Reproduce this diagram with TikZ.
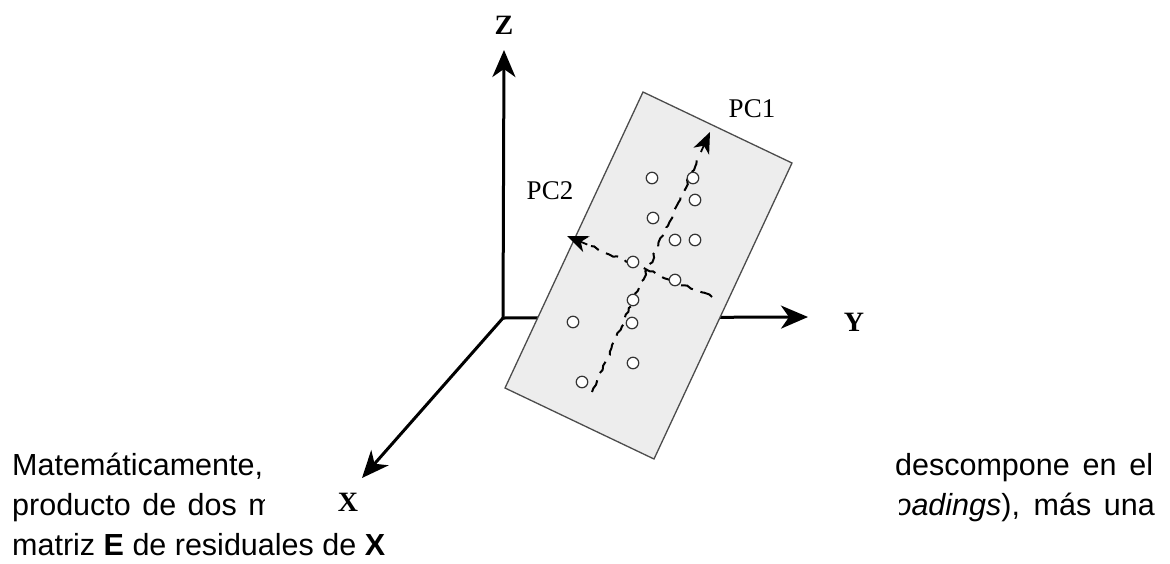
\documentclass[tikz,border=0pt]{standalone}
\usepackage{fontspec}
\setmainfont{Liberation Sans}
\newfontfamily\lblfont{Liberation Serif}
\usetikzlibrary{arrows.meta,calc,decorations.pathmorphing}
\tikzset{
  bodytext/.style={inner sep=0pt, font=\fontsize{30.5}{36}\selectfont},
  axis/.style={line width=3pt, -{Stealth[length=27pt,width=23pt,inset=8pt]}},
  axlabel/.style={inner sep=0pt, font=\lblfont\bfseries\fontsize{28}{30}\selectfont},
  pclabel/.style={inner sep=0pt, font=\lblfont\fontsize{27}{30}\selectfont},
  plane/.style={draw=black!70, line width=1.3pt, fill=black!7},
  pcline/.style={line width=2pt, dash pattern=on 13pt off 8pt,
    decorate, decoration={random steps, segment length=4pt, amplitude=1.4pt}},
  pctip/.style={line width=1.8pt, -{Stealth[length=21pt,width=17pt,inset=6pt]}},
  obs/.style={circle, draw=black!80, line width=1.2pt, fill=white, minimum size=11.5pt, inner sep=0pt},
}
\begin{document}
\begin{tikzpicture}[x=1pt,y=-1pt]
\pgfmathsetseed{7}
\useasboundingbox (0,0) rectangle (1170,563);
\fill[white] (0,0) rectangle (1170,563);
% paragraph text (partly covered by the figure)
\begin{scope}
  \clip (0,400) rectangle (264,528);
  \node[bodytext, anchor=base west] (t1a) at (12,475) {Matemáticamente,};
  \node[bodytext, anchor=base west] (t2a) at (12,515) {producto\hspace{3pt} de\hspace{3pt} dos\hspace{3pt} ma};
\end{scope}
\node[bodytext, anchor=base west] (t1b) at (895,475) {\makebox[258pt][s]{descompone en el}};
\begin{scope}
  \clip (899,400) rectangle (1170,528);
  \node[bodytext, anchor=base east] (t2b) at (1155,515) {\makebox[267pt][s]{\textit{loadings}), más una}};
\end{scope}
\node[bodytext, anchor=base west] (t3) at (12,555) {matriz \textbf{E} de residuales de \textbf{X}};
% axes
\coordinate (O) at (503,318);
\coordinate (Zt) at (504,50);
\coordinate (Yt) at (808,317);
\coordinate (Xt) at (362,478);
\draw[axis] (O) -- (Zt);
\draw[axis] (O) -- (Yt);
\draw[axis] (O) -- (Xt);
\node[axlabel] (Zl) at (504,25) {Z};
\node[axlabel] (Yl) at (854,322) {Y};
\node[axlabel] (Xl) at (348,502) {X};
% plane
\coordinate (P1) at (643,92);
\coordinate (P2) at (792,163);
\coordinate (P3) at (654,459);
\coordinate (P4) at (505,388);
\draw[plane] (P1) -- (P2) -- (P3) -- (P4) -- cycle;
% principal components
\coordinate (pc1s) at (592,392);
\coordinate (pc1t) at (710,132);
\coordinate (pc2s) at (712,297);
\coordinate (pc2t) at (567,236);
\coordinate (pc1a) at ($(pc1t)!22pt!(pc1s)$);
\coordinate (pc2a) at ($(pc2t)!22pt!(pc2s)$);
\draw[pcline] (pc1s) -- ($(pc1t)!26pt!(pc1s)$);
\draw[pcline] (pc2s) -- ($(pc2t)!26pt!(pc2s)$);
\draw[pctip] (pc1a) -- (pc1t);
\draw[pctip] (pc2a) -- (pc2t);
\node[pclabel] (pc1l) at (752,109) {PC1};
\node[pclabel] (pc2l) at (550,191) {PC2};
% observations
\node[obs] (o1) at (652,178) {};
\node[obs] (o2) at (693,178) {};
\node[obs] (o3) at (695,200) {};
\node[obs] (o4) at (653,218) {};
\node[obs] (o5) at (675,240) {};
\node[obs] (o6) at (695,240) {};
\node[obs] (o7) at (633,262) {};
\node[obs] (o8) at (675,280) {};
\node[obs] (o9) at (633,300) {};
\node[obs] (o10) at (573,322) {};
\node[obs] (o11) at (632,323) {};
\node[obs] (o12) at (633,363) {};
\node[obs] (o13) at (582,382) {};
\end{tikzpicture}
\end{document}
